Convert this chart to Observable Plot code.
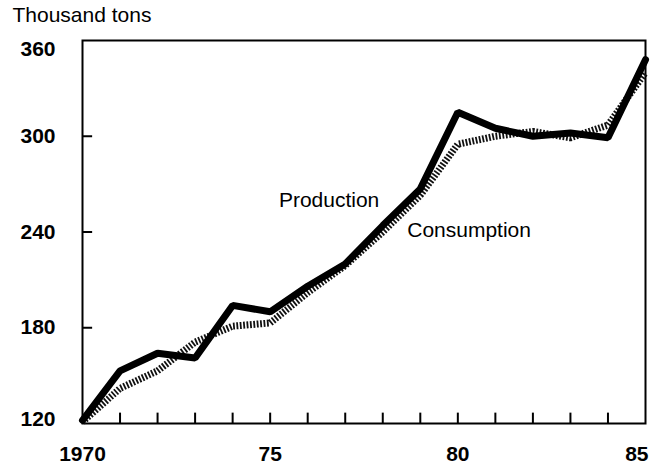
<!DOCTYPE html>
<html>
<head>
<meta charset="utf-8">
<script src="https://cdn.jsdelivr.net/npm/d3@7"></script>
<script src="https://cdn.jsdelivr.net/npm/@observablehq/plot@0.6"></script>
<style>
  html, body { margin: 0; padding: 0; background: #fff; }
</style>
</head>
<body>
<div id="chart"></div>
<script>
const years = [1970,1971,1972,1973,1974,1975,1976,1977,1978,1979,1980,1981,1982,1983,1984,1985];
const production  = [122,153,164,161,194,190,206,220,244,267,315,305,300,302,299,348];
const consumption = [121,142,153,171,181,183,202,219,240,263,295,300,303,299,307,340];
const yTicks = [120,180,240,300,360];
const xTicks = [1970,1975,1980,1985];
const xTickLabels = ["1970","75","80","85"];
const seriesLabels = [
  {text: "Production", year: 1976.57, value: 260},
  {text: "Consumption", year: 1980.3, value: 241}
];

const prodData = years.map((y, i) => ({year: y, value: production[i]}));
const consData = years.map((y, i) => ({year: y, value: consumption[i]}));
const xLab = (d) => xTickLabels[xTicks.indexOf(d)];
const tickFont = {fontSize: 21, fontWeight: "bold", letterSpacing: 1.2, fill: "#000"};

const chart = Plot.plot({
  width: 653,
  height: 465,
  marginLeft: 82,
  marginRight: 8,
  marginTop: 40,
  marginBottom: 42,
  style: {fontFamily: "Liberation Sans, Arial, sans-serif", fontSize: "20px", color: "#000", background: "#fff"},
  x: {domain: [1970, 1985], axis: null},
  y: {domain: [120, 360], axis: null},
  marks: [
    // y tick labels
    Plot.text(yTicks.filter(d => d > 120 && d < 360), {x: 1970, y: d => d, text: d => String(d), textAnchor: "end", dx: -27, ...tickFont}),
    Plot.text([360], {x: 1970, y: d => d, text: d => String(d), textAnchor: "end", dx: -27, dy: 9, ...tickFont}),
    Plot.text([120], {x: 1970, y: d => d, text: d => String(d), textAnchor: "end", dx: -27, dy: -4, ...tickFont}),
    // x tick labels
    Plot.text(xTicks.slice(0, 3), {x: d => d, y: 120, text: xLab, lineAnchor: "top", dy: 23, ...tickFont}),
    Plot.text([1985], {x: d => d, y: 120, text: xLab, lineAnchor: "top", textAnchor: "end", dy: 23, dx: 3, ...tickFont}),
    // inward ticks
    Plot.ruleX(years.slice(1, -1), {x: d => d, y1: 120, y2: 126.5, stroke: "#000", strokeWidth: 2}),
    Plot.ruleY([180, 240, 300], {y: d => d, x1: 1970, x2: 1970.27, stroke: "#000", strokeWidth: 2}),
    Plot.frame({stroke: "#000", strokeWidth: 2}),
    Plot.line(consData, {x: "year", y: "value", stroke: "#111", strokeWidth: 7, strokeDasharray: "1.8,1.6", strokeLinecap: "butt"}),
    Plot.line(prodData, {x: "year", y: "value", stroke: "#000", strokeWidth: 7, strokeLinejoin: "miter"}),
    Plot.text(seriesLabels, {x: "year", y: "value", text: "text", fontSize: 21, fill: "#000"}),
    Plot.text(["Thousand tons"], {frameAnchor: "top-left", dx: -70, dy: -33, textAnchor: "start", lineAnchor: "top", fontSize: 21, letterSpacing: 1.5, fill: "#000"})
  ]
});
document.getElementById("chart").appendChild(chart);
</script>
</body>
</html>
